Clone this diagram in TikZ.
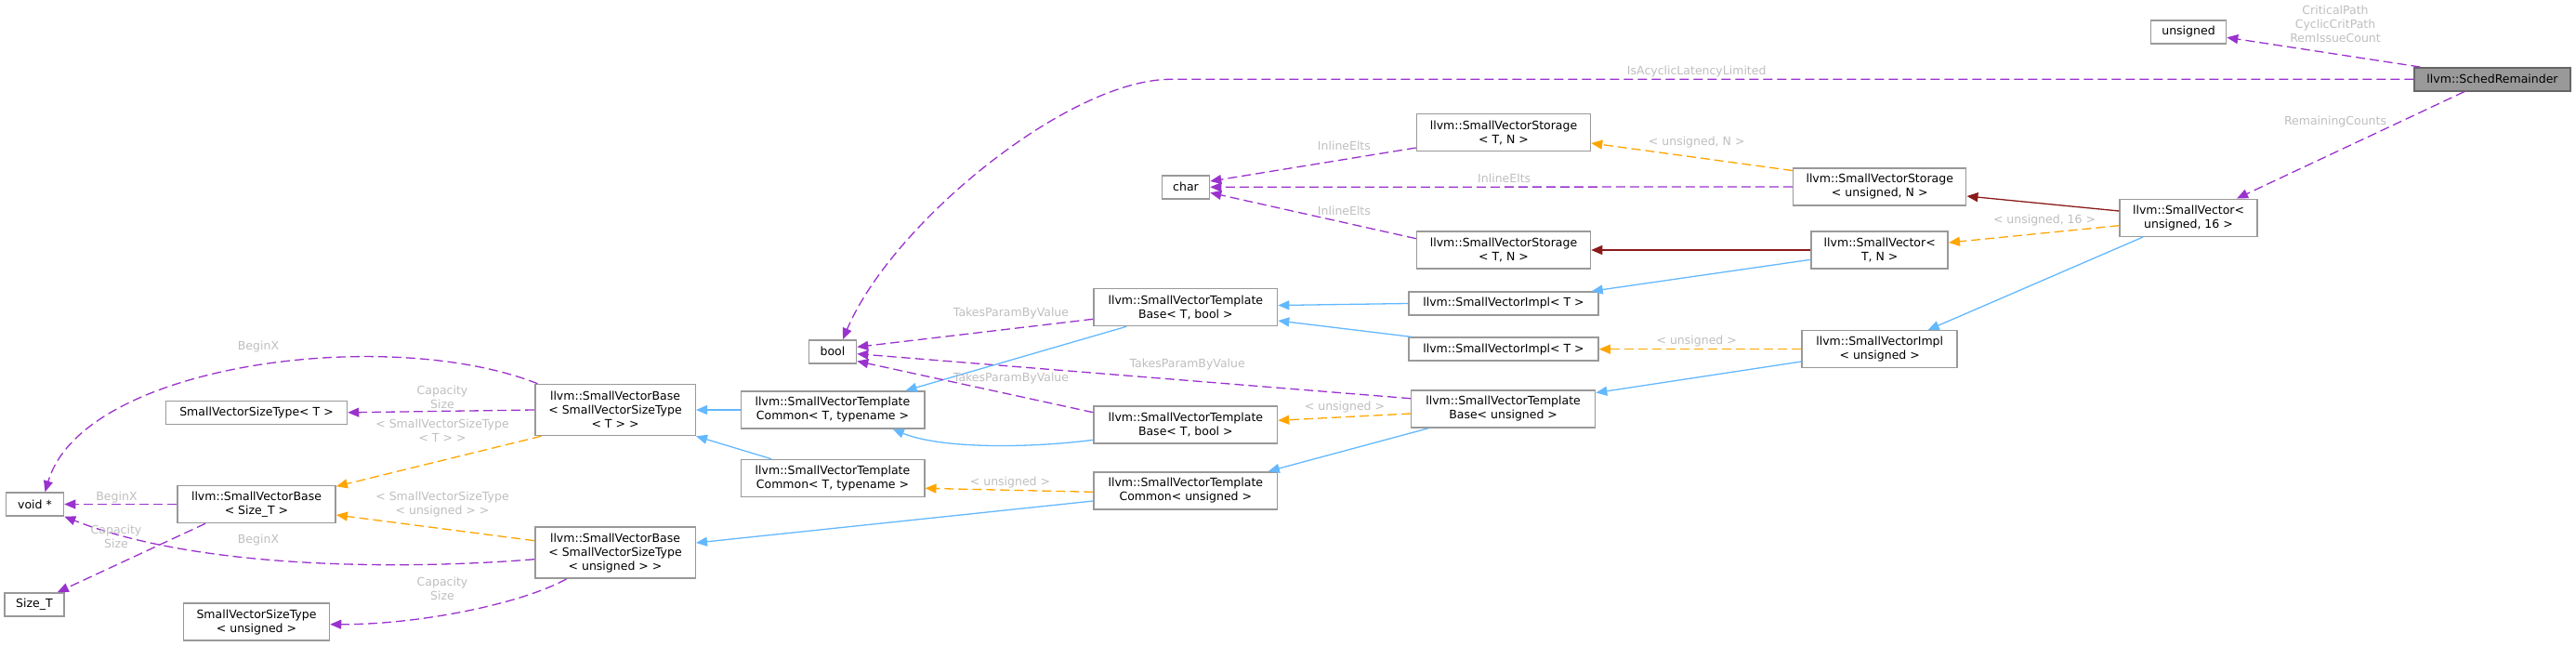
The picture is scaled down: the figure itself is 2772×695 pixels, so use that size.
\documentclass[tikz,border=0pt]{standalone}
\usepackage{fontspec}
\setmainfont{DejaVu Sans}
\usetikzlibrary{arrows.meta}

\definecolor{memcol}{HTML}{9A32CD}
\definecolor{tplcol}{HTML}{FFA500}
\definecolor{inhcol}{HTML}{63B8FF}
\definecolor{privcol}{HTML}{8B1A1A}
\definecolor{lblcol}{HTML}{BEBEBE}
\definecolor{boxcol}{HTML}{999999}
\definecolor{maincol}{HTML}{666666}

\begin{document}
\begin{tikzpicture}[x=1pt, y=-1pt, font=\fontsize{12.5}{15}\selectfont,
  clsbox/.style={draw=boxcol, line width=1.5pt, fill=white, align=center,
                 inner sep=0pt, minimum height=25pt},
  clsbox2/.style={clsbox, minimum height=40pt},
  clsbox3/.style={clsbox, minimum height=55pt},
  mainbox/.style={clsbox, fill=boxcol, draw=maincol},
  edgebase/.style={line width=1.3pt, -{Triangle[length=12pt,width=10pt]}},
  memarr/.style={edgebase, memcol, dash pattern=on 10pt off 5pt},
  tplarr/.style={edgebase, tplcol, dash pattern=on 10pt off 5pt},
  inharr/.style={edgebase, inhcol},
  privarr/.style={edgebase, privcol},
  edgelbl/.style={text=lblcol, align=center, inner sep=0pt}]
\useasboundingbox (0,0) rectangle (2772,695);

\node[mainbox, minimum width=168pt] (sched) at (2682,85.3) {llvm::SchedRemainder};
\node[clsbox, minimum width=81pt] (unsig) at (2355,34.3) {unsigned};
\node[clsbox2, minimum width=148pt] (svU16) at (2355,234.3) {llvm::SmallVector<\\unsigned, 16 >};
\node[clsbox2, minimum width=186pt] (svsU) at (2022.7,201) {llvm::SmallVectorStorage\\< unsigned, N >};
\node[clsbox2, minimum width=147pt] (svTN) at (2022.7,269) {llvm::SmallVector<\\T, N >};
\node[clsbox2, minimum width=167pt] (sviU) at (2022.7,375.7) {llvm::SmallVectorImpl\\< unsigned >};
\node[clsbox2, minimum width=187pt] (svsT1) at (1618,142.7) {llvm::SmallVectorStorage\\< T, N >};
\node[clsbox2, minimum width=187pt] (svsT2) at (1618,269) {llvm::SmallVectorStorage\\< T, N >};
\node[clsbox, minimum width=204pt] (sviT1) at (1618,326.5) {llvm::SmallVectorImpl< T >};
\node[clsbox, minimum width=204pt] (sviT2) at (1618,375.7) {llvm::SmallVectorImpl< T >};
\node[clsbox2, minimum width=198pt] (svtbU) at (1617.6,440) {llvm::SmallVectorTemplate\\Base< unsigned >};
\node[clsbox, minimum width=51pt] (char) at (1276,201.3) {char};
\node[clsbox2, minimum width=197.5pt] (svtbT1) at (1275.8,330.5) {llvm::SmallVectorTemplate\\Base< T, bool >};
\node[clsbox2, minimum width=197.5pt] (svtbT2) at (1275.8,457) {llvm::SmallVectorTemplate\\Base< T, bool >};
\node[clsbox2, minimum width=197.5pt] (svtcU) at (1275.8,527.8) {llvm::SmallVectorTemplate\\Common< unsigned >};
\node[clsbox, minimum width=51pt] (bool) at (896,378.3) {bool};
\node[clsbox2, minimum width=197.5pt] (svtcT1) at (896,441) {llvm::SmallVectorTemplate\\Common< T, typename >};
\node[clsbox2, minimum width=197.5pt] (svtcT2) at (896,514.5) {llvm::SmallVectorTemplate\\Common< T, typename >};
\node[clsbox3, minimum width=172.5pt] (svbT) at (662,441) {llvm::SmallVectorBase\\< SmallVectorSizeType\\< T > >};
\node[clsbox3, minimum width=172.5pt] (svbU) at (662,594.7) {llvm::SmallVectorBase\\< SmallVectorSizeType\\< unsigned > >};
\node[clsbox, minimum width=195pt] (svstT) at (276,443.8) {SmallVectorSizeType< T >};
\node[clsbox2, minimum width=170.4pt] (svbS) at (276,542.5) {llvm::SmallVectorBase\\< Size\_T >};
\node[clsbox2, minimum width=157pt] (svstU) at (276,669.2) {SmallVectorSizeType\\< unsigned >};
\node[clsbox, minimum width=62pt] (voidp) at (37.5,542.5) {void *};
\node[clsbox, minimum width=64pt] (sizeT) at (37,650.5) {Size\_T};

\draw[memarr] ([xshift=7pt]sched.north west) -- ([yshift=-6pt]unsig.east);
\draw[memarr] (sched.west) -- (1260,85.3) .. controls (1150,85.3) and (960,240) .. ([xshift=11pt]bool.north);
\draw[memarr] ([xshift=-30pt]sched.south) -- ([xshift=52pt]svU16.north);
\draw[privarr] ([yshift=7.3pt]svU16.west) -- ([yshift=-10pt]svsU.east);
\draw[tplarr] ([yshift=-8.4pt]svU16.west) -- ([yshift=8pt]svTN.east);
\draw[inharr] ([xshift=-49pt]svU16.south) -- ([xshift=52pt]sviU.north);
\draw[tplarr] ([yshift=-3.3pt]svsU.north west) -- ([yshift=-11.3pt]svsT1.east);
\draw[memarr] (svsU.west) -- (char.east);
\draw[memarr] ([yshift=-16.3pt]svsT1.west) -- ([yshift=6.3pt]char.east);
\draw[memarr] ([yshift=12.3pt]svsT2.west) -- ([yshift=-6pt]char.east);
\draw[privarr] (svTN.west) -- (svsT2.east);
\draw[inharr] ([yshift=-10.3pt]svTN.west) -- ([xshift=-8pt]sviT1.north east);
\draw[inharr] (sviT1.west) -- ([yshift=2pt]svtbT1.east);
\draw[inharr] ([xshift=4pt]sviT2.north west) -- ([yshift=-14.5pt]svtbT1.east);
\draw[tplarr] (sviU.west) -- (sviT2.east);
\draw[inharr] ([yshift=-13.3pt]sviU.west) -- ([yshift=-3.3pt]svtbU.north east);
\draw[memarr] ([yshift=11.3pt]svtbU.west) -- ([yshift=-2.4pt]bool.east);
\draw[tplarr] ([yshift=-5pt]svtbU.west) -- ([yshift=4.7pt]svtbT2.east);
\draw[inharr] ([xshift=19.3pt]svtbU.south west) -- ([xshift=-10.5pt]svtcU.north east);
\draw[memarr] ([yshift=-12.8pt]svtbT1.west) -- ([yshift=5pt]bool.east);
\draw[inharr] ([xshift=36pt]svtbT1.south west) -- ([xshift=-21pt]svtcT1.north east);
\draw[memarr] ([yshift=13.3pt]svtbT2.west) -- ([yshift=3pt]bool.south east);
\draw[inharr] ([yshift=-16.3pt]svtbT2.west) .. controls (1100,483) and (1010,482) .. ([xshift=-34.7pt]svtcT1.south east);
\draw[tplarr] ([yshift=-1.5pt]svtcU.west) -- ([yshift=-10.8pt]svtcT2.east);
\draw[inharr] ([yshift=-11.2pt]svtcU.west) -- ([yshift=10.7pt]svbU.east);
\draw[inharr] (svtcT1.west) -- (svbT.east);
\draw[inharr] ([xshift=33.6pt]svtcT2.north west) -- (svbT.south east);
\draw[memarr] ([xshift=3.5pt]svbT.north west) .. controls (420,350) and (90,390) .. ([xshift=11pt]voidp.north);
\draw[memarr] (svbT.west) -- (svstT.east);
\draw[tplarr] ([xshift=7.5pt]svbT.south west) -- ([yshift=-1.5pt]svbS.north east);
\draw[memarr] (svbS.west) -- (voidp.east);
\draw[memarr] ([xshift=31pt]svbS.south west) -- ([xshift=-8pt]sizeT.north east);
\draw[tplarr] ([yshift=13pt]svbU.west) -- ([yshift=-11.5pt]svbS.east);
\draw[memarr] ([yshift=-7pt]svbU.west) .. controls (450,612) and (220,615) .. (voidp.south east);
\draw[memarr] ([xshift=34.5pt]svbU.south west) .. controls (560,650) and (450,672) .. ([yshift=-2.5pt]svstU.east);

\node[edgelbl] (lCrit) at (2513,26) {CriticalPath\\CyclicCritPath\\RemIssueCount};
\node[edgelbl] (lAcyc) at (1825.7,76.7) {IsAcyclicLatencyLimited};
\node[edgelbl] (lRem) at (2513,131) {RemainingCounts};
\node[edgelbl] (lUN) at (1825.7,152.7) {< unsigned, N >};
\node[edgelbl] (lU16) at (2200,236.7) {< unsigned, 16 >};
\node[edgelbl] (lUImpl) at (1825.7,367.3) {< unsigned >};
\node[edgelbl] (lInl1) at (1446.4,156.7) {InlineElts};
\node[edgelbl] (lInl2) at (1618.7,192.3) {InlineElts};
\node[edgelbl] (lInl3) at (1446.4,226.7) {InlineElts};
\node[edgelbl] (lTak1) at (1088,336.7) {TakesParamByValue};
\node[edgelbl] (lTak2) at (1277.7,392.3) {TakesParamByValue};
\node[edgelbl] (lTak3) at (1088,406.7) {TakesParamByValue};
\node[edgelbl] (lUBase) at (1447,438.5) {< unsigned >};
\node[edgelbl] (lUComm) at (1087,519) {< unsigned >};
\node[edgelbl] (lBeg1) at (278,372.7) {BeginX};
\node[edgelbl] (lCap1) at (476,427) {Capacity\\Size};
\node[edgelbl] (lSzT) at (476,463) {< SmallVectorSizeType\\< T > >};
\node[edgelbl] (lBeg2) at (125.5,534.7) {BeginX};
\node[edgelbl] (lSzU) at (476,543) {< SmallVectorSizeType\\< unsigned > >};
\node[edgelbl] (lCap2) at (125,577.5) {Capacity\\Size};
\node[edgelbl] (lBeg3) at (278,580.7) {BeginX};
\node[edgelbl] (lCap3) at (476,633.7) {Capacity\\Size};
\end{tikzpicture}
\end{document}
